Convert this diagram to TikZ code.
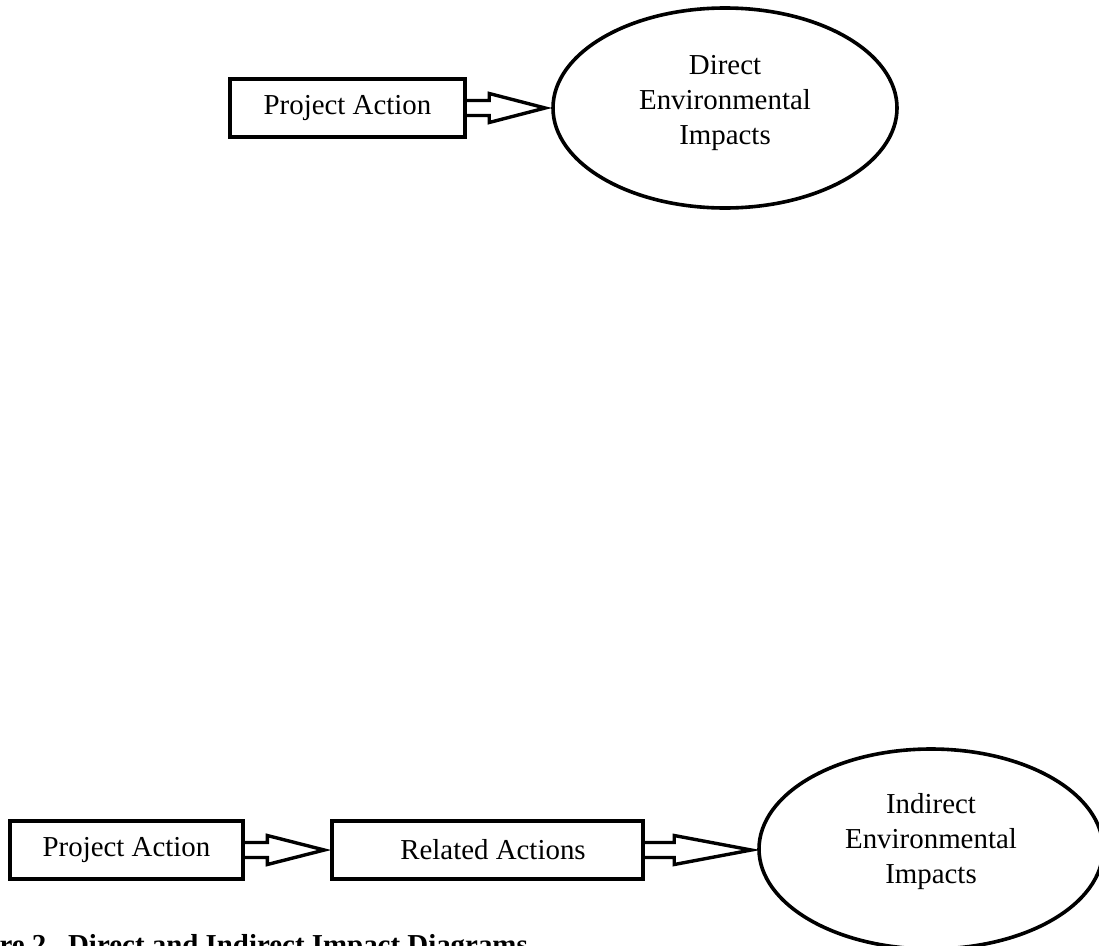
\documentclass[tikz,border=0pt]{standalone}
\usepackage{fontspec}
\setmainfont{Liberation Serif}
\usetikzlibrary{shapes.geometric,calc}
\newcommand{\blkarrow}[3]{%
  \draw[blockarrow]
    ($(#1.east)+(-1.5,-7.5)$)
    -- ($(#1.east -| #2.west)+(-#3-6,-7.5)$)
    -- ($(#1.east -| #2.west)+(-#3-6,-14.5)$)
    -- ($(#1.east -| #2.west)+(-6,0)$)
    -- ($(#1.east -| #2.west)+(-#3-6,14.5)$)
    -- ($(#1.east -| #2.west)+(-#3-6,7.5)$)
    -- ($(#1.east)+(-1.5,7.5)$);}
\begin{document}
\begin{tikzpicture}[x=1pt,y=-1pt,
  box/.style={draw, line width=3.4pt, minimum width=#1, minimum height=58pt,
    inner sep=0pt, font=\fontsize{28.9}{35}\selectfont},
  impact/.style={draw, ellipse, line width=3.6pt, minimum width=344pt,
    minimum height=200pt, inner sep=0pt},
  txt/.style={align=center, inner sep=0pt, font=\fontsize{28.9}{35}\selectfont},
  blockarrow/.style={draw, line width=3.4pt, line join=miter}]
\useasboundingbox (0,0) rectangle (1099,945);

% top: direct impacts
\node[box=235pt] (pa1) at (347.5,108) {\raisebox{-2pt}{Project Action}\hspace{22pt}};
\node[impact] (de) at (725,108) {};
\node[txt] (detxt) at (725,103.5) {Direct\\Environmental\\Impacts};
\blkarrow{pa1}{de}{56}

% bottom: indirect impacts
\node[box=233pt] (pa2) at (126.5,850) {\raisebox{-2pt}{Project Action}\hspace{19pt}};
\node[box=311pt] (ra) at (487.5,850) {\hspace{11pt}Related Actions};
\node[impact] (ie) at (931,849) {};
\node[txt] (ietxt) at (931,841.5) {Indirect\\Environmental\\Impacts};
\blkarrow{pa2}{ra}{57}
\blkarrow{ra}{ie}{77}

% caption (clipped by the page edge, as in the reference)
\node[anchor=base east, inner sep=0pt, font=\bfseries\fontsize{28.9}{35}\selectfont]
  (cap) at (528,954) {Figure 2.\ \ Direct and Indirect Impact Diagrams};
\end{tikzpicture}
\end{document}
